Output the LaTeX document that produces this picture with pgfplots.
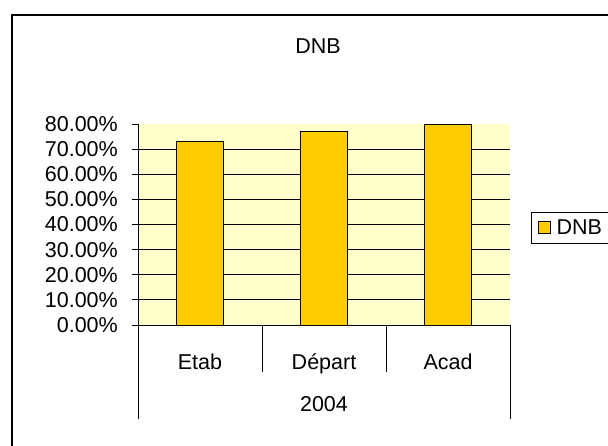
\documentclass[border=0pt]{standalone}
\usepackage{fontspec}
\setmainfont{Liberation Sans}
\usepackage{pgfplots}
\pgfplotsset{compat=1.18}
\definecolor{plotbg}{HTML}{FFFFCC}
\definecolor{barcol}{HTML}{FFCC00}
\begin{document}
\begin{tikzpicture}[font=\fontsize{21.5bp}{25bp}\selectfont]
\path[use as bounding box] (0,0) rectangle (608bp,446bp);
\draw[line width=2bp] (12bp,-5bp) -- (12bp,430.5bp) -- (620bp,430.5bp);
\begin{axis}[
  at={(138bp,121bp)}, anchor=south west,
  scale only axis, width=372bp, height=201bp,
  xmin=-0.5, xmax=2.5, ymin=0, ymax=80,
  axis x line*=bottom, axis y line*=left,
  axis line style={line width=1bp, black, -},
  axis background/.style={fill=plotbg},
  xtick=data, xticklabels={Etab,Départ,Acad},
  x tick style={draw=none},
  xticklabel style={anchor=base, yshift=-38bp},
  ytick={0,10,...,80},
  yticklabels={0.00\%,10.00\%,20.00\%,30.00\%,40.00\%,50.00\%,60.00\%,70.00\%,80.00\%},
  y tick style={line width=1bp, black},
  tick align=outside, major tick length=6bp,
  yticklabel style={anchor=east, inner sep=0pt, xshift=-14bp},
  extra y ticks={10,20,...,70}, extra y tick labels={},
  extra tick style={grid=major, major tick length=0pt},
  major grid style={line width=1bp, black},
  ybar, bar width=0.38,
  clip=false,
  title={DNB},
  title style={at={(axis description cs:0.484,1.358)}, anchor=center},
  legend style={at={(axis description cs:1.0565,0.483)}, anchor=west, draw=black, line width=1bp, inner xsep=6bp, inner ysep=5bp},
  legend image code/.code={\draw[#1, draw=black, line width=1bp] (0bp,-6bp) rectangle (12bp,6bp);},
]
\addplot[fill=barcol, draw=black, line width=1bp] coordinates {(0,73.0) (1,77.0) (2,80.0)};
\legend{\hspace{4bp}DNB\hspace{40bp}}
\draw[line width=1bp] ([yshift=-94bp]axis cs:-0.5,0) -- (axis cs:-0.5,0);
\draw[line width=1bp] ([yshift=-47bp]axis cs:0.5,0) -- (axis cs:0.5,0);
\draw[line width=1bp] ([yshift=-47bp]axis cs:1.5,0) -- (axis cs:1.5,0);
\draw[line width=1bp] ([yshift=-94bp]axis cs:2.5,0) -- (axis cs:2.5,0);
\node[anchor=base] at ([yshift=-86.5bp]axis cs:1,0) {2004};
\end{axis}
\end{tikzpicture}
\end{document}
